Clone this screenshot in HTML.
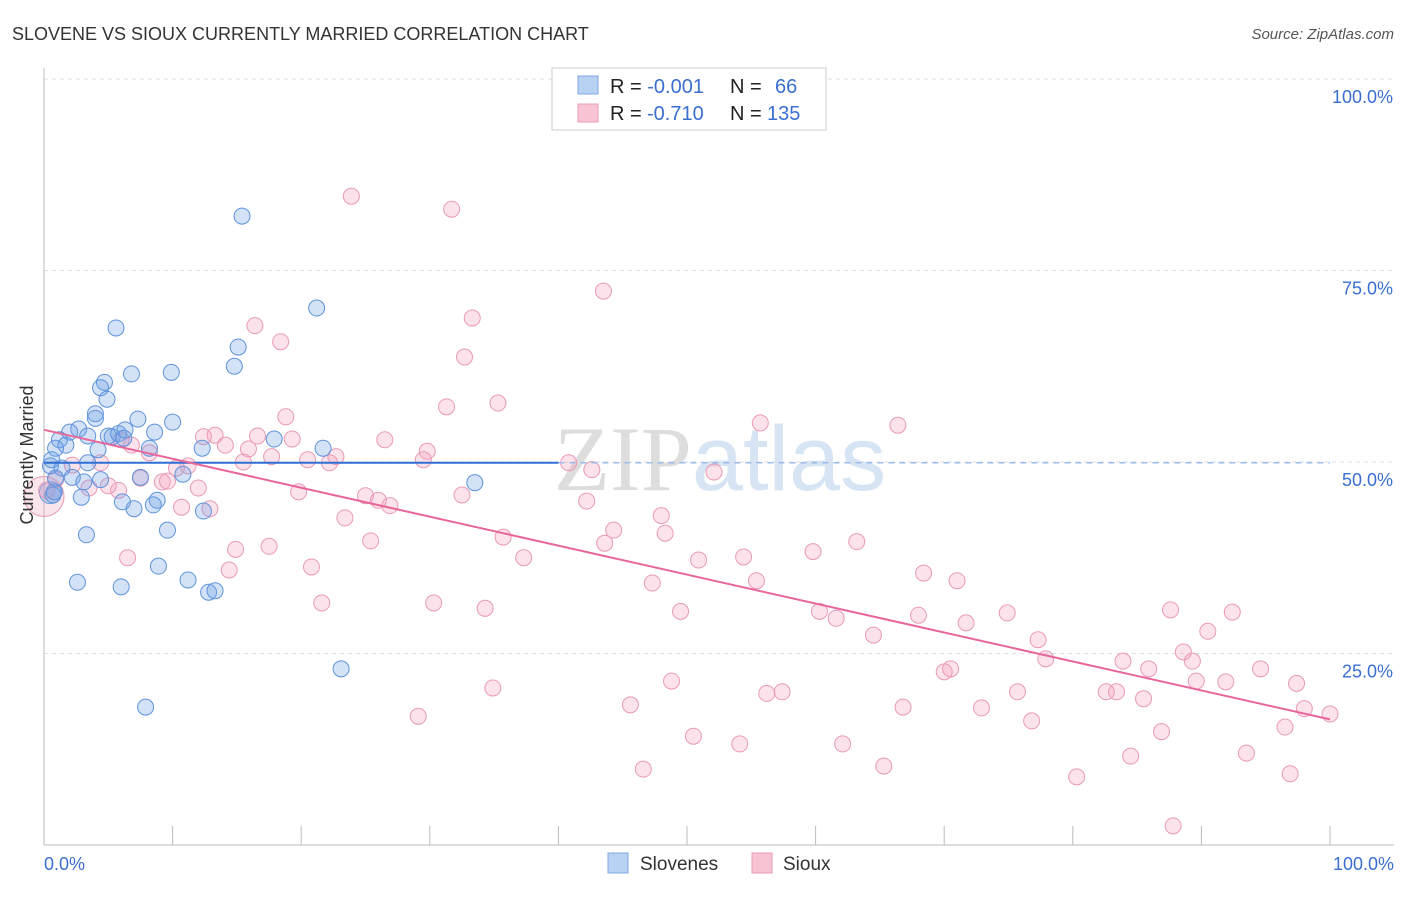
<!DOCTYPE html>
<html><head><meta charset="utf-8"><style>
body{margin:0;background:#fff;font-family:"Liberation Sans",sans-serif;}
svg text{font-family:"Liberation Sans",sans-serif;}
</style></head><body>
<svg id="chart" width="1406" height="892">
<text x="12" y="40" font-size="18" fill="#333">SLOVENE VS SIOUX CURRENTLY MARRIED CORRELATION CHART</text>
<text x="1394" y="39" font-size="15" fill="#555" text-anchor="end" font-style="italic">Source: ZipAtlas.com</text>
<text x="720" y="490" font-size="92" fill="#e4e4e4" text-anchor="middle"><tspan font-family="Liberation Serif" fill="#ddd">ZIP</tspan><tspan fill="#d6e4f4">atlas</tspan></text>
<g id="grid"></g>
<g id="axes"></g>
<g id="pts"></g>
<g id="trend"></g>
<text transform="translate(33,455) rotate(-90)" font-size="18" fill="#333" text-anchor="middle">Currently Married</text>
<g>
<rect x="552" y="68" width="274" height="62" fill="#fff" stroke="#ccc"/>
<rect x="578" y="76" width="20" height="18" fill="#b8d2f4" stroke="#7fa8e0"/>
<rect x="578" y="104" width="20" height="18" fill="#f8c4d4" stroke="#e89ab5"/>
<text x="610" y="93" font-size="20" fill="#222">R = <tspan fill="#3a6fd0">-0.001</tspan><tspan x="730">N =</tspan><tspan x="775" fill="#3a6fd0">66</tspan></text>
<text x="610" y="120" font-size="20" fill="#222">R = <tspan fill="#3a6fd0" x="647">-0.710</tspan><tspan x="730">N =</tspan><tspan x="767" fill="#3a6fd0">135</tspan></text>
</g>
<g>
<rect x="608" y="853" width="20" height="20" fill="#b8d2f4" stroke="#7fa8e0"/>
<text x="640" y="870" font-size="19" fill="#333">Slovenes</text>
<rect x="752" y="853" width="20" height="20" fill="#f8c4d4" stroke="#e89ab5"/>
<text x="783" y="870" font-size="19" fill="#333">Sioux</text>
</g>
</svg>
<script>
const yTicks=[25,50,75,100];
const yTickLabels=["25.0%","50.0%","75.0%","100.0%"];
const xTicks=[0,10,20,30,40,50,60,70,80,90,100];
const blueX=[15.4,21.2,5.6,15.1,14.8,6.8,9.9,4.7,4.4,4.9,4.0,4.0,7.3,10.0,2.7,2.0,1.2,1.7,0.9,5.0,5.3,5.8,6.3,6.2,8.6,3.4,17.9,21.7,12.3,8.2,4.2,0.6,0.5,3.4,1.4,2.2,0.9,3.1,4.4,7.5,10.8,33.5,0.7,2.9,6.1,8.8,8.5,7.0,12.4,9.6,3.3,8.9,2.6,11.2,6.0,12.8,13.3,23.1,7.9,0.8];
const blueY=[82.1,70.1,67.5,65.0,62.5,61.5,61.7,60.4,59.7,58.2,56.3,55.7,55.6,55.2,54.3,53.9,52.9,52.2,51.8,53.4,53.3,53.7,54.2,53.1,53.9,53.4,53.0,51.8,51.8,51.8,51.6,50.3,49.5,49.9,49.2,48.0,47.9,47.4,47.7,48.0,48.4,47.3,45.7,45.4,44.8,45.0,44.4,43.9,43.6,41.1,40.5,36.4,34.3,34.6,33.7,33.0,33.2,23.0,18.0,46.1];
const pinkX=[23.9,31.7,43.5,33.3,16.4,18.4,32.7,31.3,35.3,18.8,55.7,66.4,26.5,13.3,12.4,16.6,19.3,14.1,15.9,29.8,6.8,8.2,22.7,17.7,20.5,15.5,22.2,29.5,40.8,42.6,52.1,10.3,11.2,6.0,2.2,4.4,7.5,9.2,9.6,12.0,3.5,5.8,5.0,19.8,25.0,26.0,26.9,32.5,42.2,10.7,12.9,23.4,48.0,44.3,43.6,48.3,35.7,25.4,14.9,17.5,6.5,37.3,54.4,50.9,59.8,63.2,14.4,20.8,55.4,47.3,68.4,71.0,30.3,21.6,34.3,49.5,60.3,61.6,68.0,71.7,74.9,87.6,92.4,90.5,77.3,64.5,77.9,88.6,89.3,83.9,85.9,94.6,70.5,70.0,48.8,34.9,75.7,82.6,83.4,56.2,57.4,85.5,89.6,91.9,97.4,45.6,66.8,72.9,98.0,29.1,76.8,96.5,50.5,54.1,62.1,86.9,84.5,93.5,46.6,65.3,80.3,96.9,87.8,0.2,0.9,100.0];
const pinkY=[84.7,83.0,72.3,68.8,67.8,65.7,63.7,57.2,57.7,55.9,55.1,54.8,52.9,53.5,53.3,53.4,53.0,52.2,51.7,51.4,52.2,51.2,50.7,50.7,50.3,50.0,49.9,50.3,49.9,49.0,48.7,49.2,49.5,52.9,49.6,49.9,47.9,47.4,47.5,46.6,46.6,46.3,46.9,46.1,45.6,45.0,44.3,45.7,44.9,44.1,43.9,42.7,43.0,41.1,39.4,40.7,40.2,39.7,38.6,39.0,37.5,37.5,37.6,37.2,38.3,39.6,35.9,36.3,34.5,34.2,35.5,34.5,31.6,31.6,30.9,30.5,30.5,29.6,30.0,29.0,30.3,30.7,30.4,27.9,26.8,27.4,24.3,25.2,24.0,24.0,23.0,23.0,23.0,22.6,21.4,20.5,20.0,20.0,20.0,19.8,20.0,19.1,21.4,21.3,21.1,18.3,18.0,17.9,17.8,16.8,16.2,15.4,14.2,13.2,13.2,14.8,11.6,12.0,9.9,10.3,8.9,9.3,2.5,46.3,47.7,17.1];
const blueTrendY=[49.9,49.9];
const blueTrendEndX=40;
const pinkTrendY=[54.2,16.4];

const NS="http://www.w3.org/2000/svg";
const sx=v=>44+v*12.86;
const sy=v=>845-v*7.66;
function mk(tag,attrs,parent){const e=document.createElementNS(NS,tag);for(const k in attrs)e.setAttribute(k,attrs[k]);parent.appendChild(e);return e;}
const grid=document.getElementById('grid'),axes=document.getElementById('axes'),pts=document.getElementById('pts'),trend=document.getElementById('trend');
yTicks.forEach((t,i)=>{
  const l=mk('line',{x1:44,x2:1394,y1:sy(t),y2:sy(t),stroke:'#ddd','stroke-dasharray':'4,4'},grid);
  
  
  const tx=mk('text',{x:1393,y:sy(t)+24,'font-size':18,fill:'#3a6fd0','text-anchor':'end'},grid);
  tx.textContent=yTickLabels[i];
  
  
});
let a=mk('line',{x1:44,x2:44,y1:68,y2:845,stroke:'#bbb'},axes);


a=mk('line',{x1:44,x2:1394,y1:845,y2:845,stroke:'#bbb'},axes);


xTicks.forEach(t=>{
  const l=mk('line',{x1:sx(t),x2:sx(t),y1:826,y2:845,stroke:'#bbb'},axes);
  
  
});
let xl=mk('text',{x:44,y:870,'font-size':18,fill:'#3a6fd0'},axes);xl.textContent='0.0%';


xl=mk('text',{x:1394,y:870,'font-size':18,fill:'#3a6fd0','text-anchor':'end'},axes);xl.textContent='100.0%';


// big markers at left
let big=mk('circle',{cx:sx(0),cy:sy(45.5),r:20,fill:'rgba(240,150,180,0.25)',stroke:'#e89ab5'},pts);


big=mk('circle',{cx:sx(0.5),cy:sy(46),r:11,fill:'rgba(110,160,230,0.3)',stroke:'#6f9fe0'},pts);


pinkX.forEach((x,i)=>{
  const c=mk('circle',{cx:sx(x),cy:sy(pinkY[i]),r:8,fill:'rgba(245,160,190,0.3)',stroke:'#e99ab6','stroke-width':1},pts);
  
  
});
blueX.forEach((x,i)=>{
  const c=mk('circle',{cx:sx(x),cy:sy(blueY[i]),r:8,fill:'rgba(110,160,230,0.3)',stroke:'#5f93dc','stroke-width':1},pts);
  
  
});
let t=mk('line',{x1:sx(0),x2:sx(blueTrendEndX),y1:sy(blueTrendY[0]),y2:sy(blueTrendY[0]+(blueTrendY[1]-blueTrendY[0])*blueTrendEndX/100),stroke:'#2f6fd6','stroke-width':2},trend);


t=mk('line',{x1:sx(blueTrendEndX),x2:sx(100),y1:sy(blueTrendY[0]),y2:sy(blueTrendY[1]),stroke:'#9bbbe8','stroke-width':1.5,'stroke-dasharray':'6,5'},trend);


t=mk('line',{x1:sx(0),x2:sx(100),y1:sy(pinkTrendY[0]),y2:sy(pinkTrendY[1]),stroke:'#e8669a','stroke-width':2},trend);


</script>
</body></html>
